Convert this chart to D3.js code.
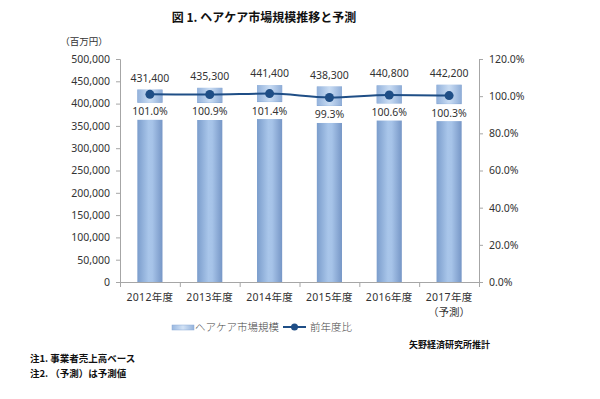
<!DOCTYPE html>
<html><head><meta charset="utf-8">
<script src="https://cdn.jsdelivr.net/npm/d3@7"></script>
<style>body{margin:0;background:#fff}svg{display:block}</style>
</head><body>
<script>
const categories = ["2012年度","2013年度","2014年度","2015年度","2016年度","2017年度"];
const marketSize = [431400,435300,441400,438300,440800,442200];
const yoyRatio = [101.0,100.9,101.4,99.3,100.6,100.3];
const leftTicks = [0,50000,100000,150000,200000,250000,300000,350000,400000,450000,500000];
const rightTicks = [0,20,40,60,80,100,120];

const W=600,H=399;
const svg=d3.select("body").append("svg").attr("width",W).attr("height",H);
const defs=svg.append("defs");
const g=defs.append("linearGradient").attr("id","barg").attr("x1","0").attr("x2","1").attr("y1","0").attr("y2","0");
g.append("stop").attr("offset","0").attr("stop-color","#7b9dcc");
g.append("stop").attr("offset","0.45").attr("stop-color","#a9c6ea");
g.append("stop").attr("offset","0.6").attr("stop-color","#a6c3e8");
g.append("stop").attr("offset","1").attr("stop-color","#7696c6");
const g2=defs.append("linearGradient").attr("id","barTop").attr("x1","0").attr("x2","1").attr("y1","0").attr("y2","0");
g2.append("stop").attr("offset","0").attr("stop-color","#9ab8e0");
g2.append("stop").attr("offset","0.5").attr("stop-color","#d2e2f5");
g2.append("stop").attr("offset","1").attr("stop-color","#95b3dc");

const x=d3.scaleBand().domain(categories).range([120,479]).paddingInner(0.58).paddingOuter(0.29);
const yL=d3.scaleLinear().domain([0,500000]).range([282,59]);
const yR=d3.scaleLinear().domain([0,120]).range([282,59]);
const font="'Noto Sans','Noto Sans CJK JP',sans-serif";
const txt="#333";

// title
svg.append("text").attr("x",264).attr("y",22).attr("text-anchor","middle")
 .attr("font-family","'Noto Sans CJK JP',serif").attr("font-weight","bold").attr("font-size",12).attr("fill","#111")
 .text("図 1.  ヘアケア市場規模推移と予測");
svg.append("text").attr("x",84).attr("y",45).attr("text-anchor","middle")
 .attr("font-family","'Noto Sans CJK JP'").attr("font-size",9.5).attr("fill",txt).text("（百万円）");

// bars
const bars=svg.append("g");
categories.forEach((c,i)=>{
  bars.append("rect").attr("x",x(c)).attr("y",yL(marketSize[i])).attr("width",x.bandwidth())
   .attr("height",282-yL(marketSize[i])).attr("fill","url(#barg)");
  bars.append("rect").attr("x",x(c)).attr("y",yL(marketSize[i])).attr("width",x.bandwidth())
   .attr("height",yR(yoyRatio[i])+8-yL(marketSize[i])).attr("fill","url(#barTop)").attr("opacity",0.75);
});

// axes
const axL=svg.append("g").attr("transform","translate(120,0)")
 .call(d3.axisLeft(yL).tickValues(leftTicks).tickSize(4).tickPadding(6).tickFormat(d3.format(",")));
const axR=svg.append("g").attr("transform","translate(479,0)")
 .call(d3.axisRight(yR).tickValues(rightTicks).tickSize(4).tickPadding(6).tickFormat(d=>d.toFixed(1)+"%"));
const xb=d3.scaleLinear().domain([0,6]).range([120,479]);
const axX=svg.append("g").attr("transform","translate(0,282)")
 .call(d3.axisBottom(xb).tickValues(d3.range(0,7)).tickSize(5).tickFormat(""));
[axL,axR,axX].forEach(a=>{
  a.selectAll("path,line").attr("stroke","#a6a6a6");
  a.selectAll("text").attr("font-family",font).attr("font-size",10.5).attr("fill",txt);
});
// category labels
categories.forEach((c,i)=>{
  svg.append("text").attr("x",x(c)+x.bandwidth()/2).attr("y",301).attr("text-anchor","middle")
   .attr("font-family",font).attr("font-size",10.5).attr("letter-spacing",0.3).attr("fill",txt).text(c);
});
svg.append("text").attr("x",x(categories[5])+x.bandwidth()/2).attr("y",316).attr("text-anchor","middle")
 .attr("font-family",font).attr("font-size",10.5).attr("fill",txt).text("（予測）");

// value labels
categories.forEach((c,i)=>{
  const cx=x(c)+x.bandwidth()/2;
  svg.append("text").attr("x",cx).attr("y",yL(marketSize[i])-8).attr("text-anchor","middle")
   .attr("font-family",font).attr("font-size",10.5).attr("fill",txt).text(d3.format(",")(marketSize[i]));
  const ly=yR(yoyRatio[i])+17;
  svg.append("rect").attr("x",cx-20).attr("y",ly-8.5).attr("width",40).attr("height",17).attr("fill","#fff");
  svg.append("text").attr("x",cx).attr("y",ly+4).attr("text-anchor","middle")
   .attr("font-family",font).attr("font-size",10.5).attr("fill",txt).text(yoyRatio[i].toFixed(1)+"%");
});

// line
const line=d3.line().x((d,i)=>x(categories[i])+x.bandwidth()/2).y(d=>yR(d)).curve(d3.curveMonotoneX);
svg.append("path").datum(yoyRatio).attr("d",line).attr("fill","none").attr("stroke","#1f4e86").attr("stroke-width",2);
svg.selectAll("circle.pt").data(yoyRatio).enter().append("circle").attr("class","pt")
 .attr("cx",(d,i)=>x(categories[i])+x.bandwidth()/2).attr("cy",d=>yR(d)).attr("r",4.5).attr("fill","#1f4e86");

// legend
svg.append("rect").attr("x",172).attr("y",325).attr("width",22).attr("height",5).attr("fill","url(#barTop)").attr("stroke","#8aaad6").attr("stroke-width",0.5);
svg.append("text").attr("x",195).attr("y",331).attr("font-family","'Noto Sans CJK JP'").attr("font-size",10.5).attr("fill","#444").attr("font-weight",300).text("ヘアケア市場規模");
svg.append("line").attr("x1",283).attr("x2",306).attr("y1",327).attr("y2",327).attr("stroke","#1f4e86").attr("stroke-width",2);
svg.append("circle").attr("cx",294.5).attr("cy",327).attr("r",3.5).attr("fill","#1f4e86");
svg.append("text").attr("x",310).attr("y",331).attr("font-family","'Noto Sans CJK JP'").attr("font-size",10.5).attr("fill","#444").attr("font-weight",300).text("前年度比");

// notes
svg.append("text").attr("x",490).attr("y",348).attr("text-anchor","end").attr("font-family","'Noto Sans CJK JP'").attr("font-weight","bold").attr("font-size",9).attr("fill","#111").text("矢野経済研究所推計");
svg.append("text").attr("x",30).attr("y",362).attr("font-family","'Noto Sans CJK JP'").attr("font-weight","bold").attr("font-size",9.5).attr("fill","#111").text("注1.  事業者売上高ベース");
svg.append("text").attr("x",30).attr("y",377).attr("font-family","'Noto Sans CJK JP'").attr("font-weight","bold").attr("font-size",9.5).attr("fill","#111").text("注2.  （予測）は予測値");
</script>
</body></html>
